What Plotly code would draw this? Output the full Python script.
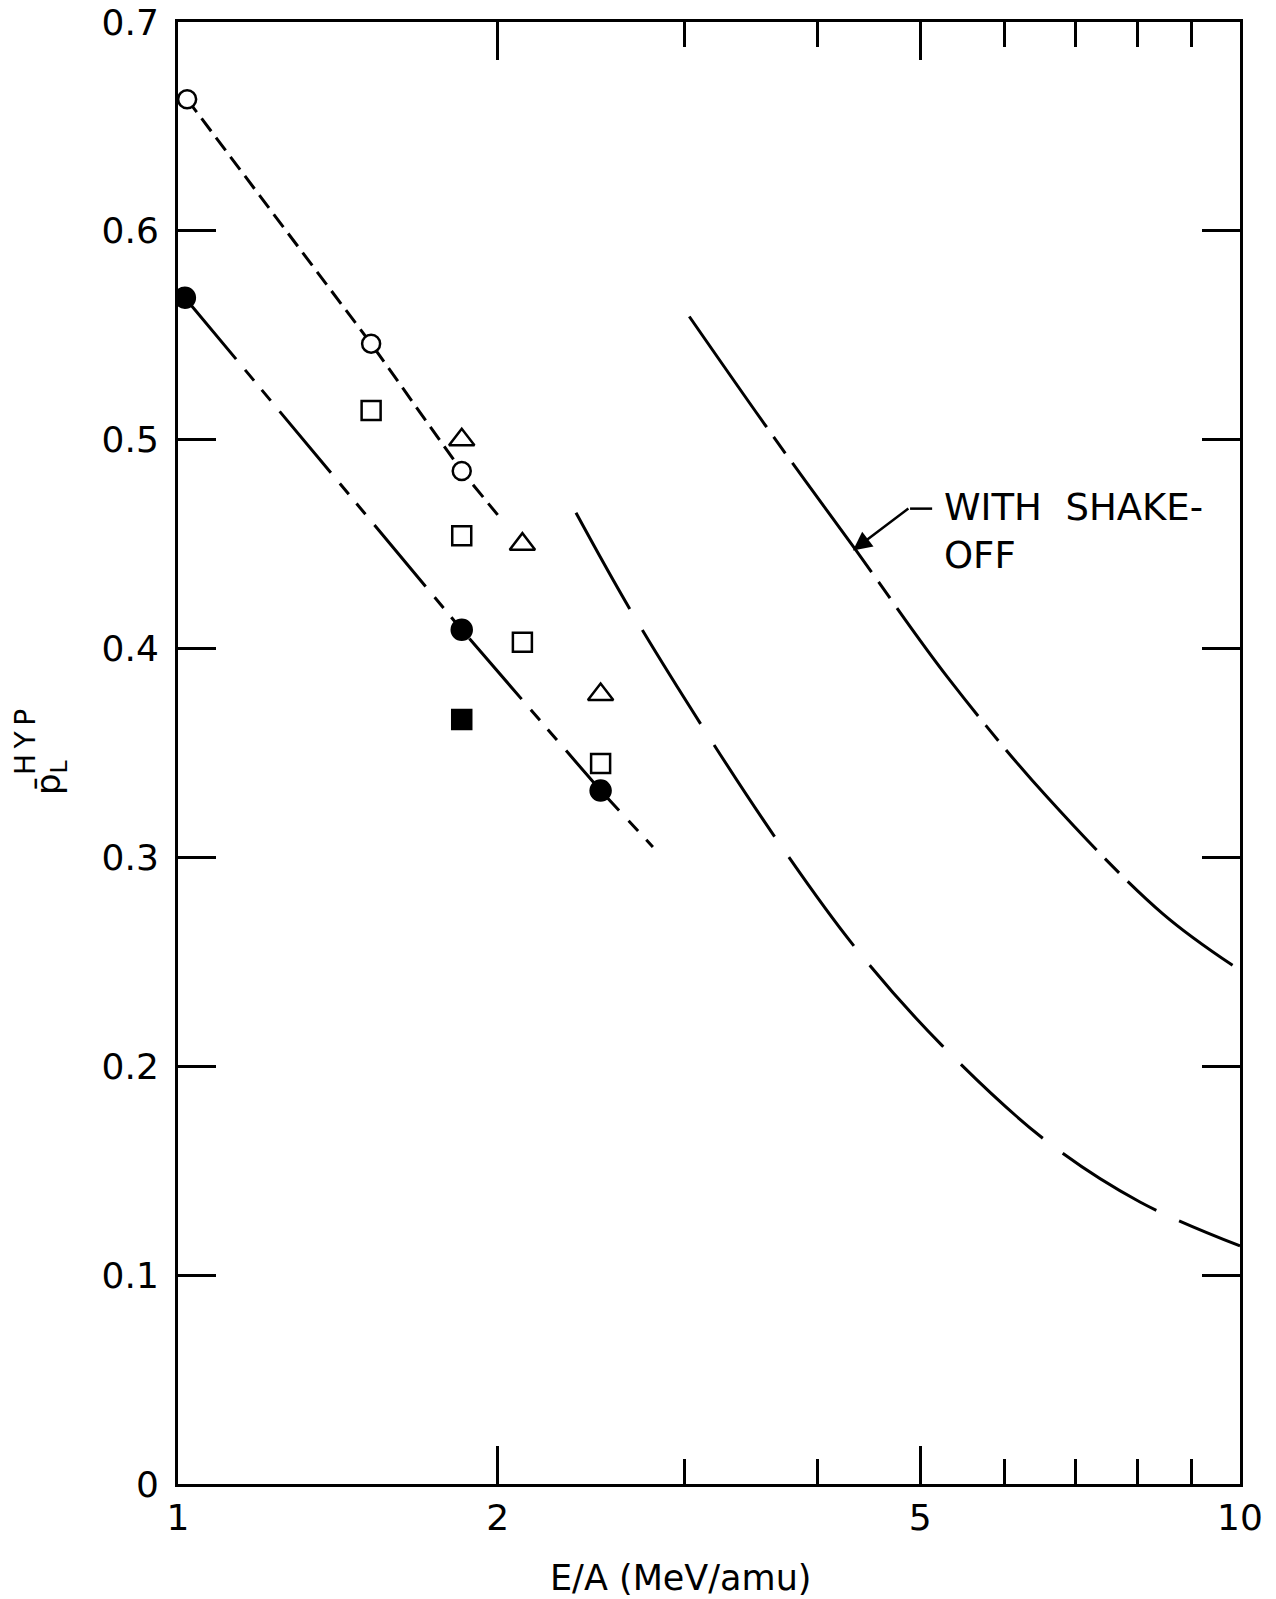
import math
import plotly.graph_objects as go

# ---------------- data ----------------
open_circle_x = [1.02, 1.52, 1.85]
open_circle_y = [0.663, 0.546, 0.485]

filled_circle_x = [1.015, 1.85, 2.50]
filled_circle_y = [0.568, 0.409, 0.332]

open_square_x = [1.52, 1.85, 2.11, 2.50]
open_square_y = [0.514, 0.454, 0.403, 0.345]

triangle_x = [1.85, 2.11, 2.50]
triangle_y = [0.500, 0.450, 0.378]

filled_square_x = [1.85]
filled_square_y = [0.366]

# short-dashed curve through open circles
curve_a_x = [1.02, 1.52, 1.85, 2.00]
curve_a_y = [0.663, 0.546, 0.485, 0.464]

# long-short dashed curve through filled circles
curve_b_x = [1.015, 1.85, 2.50, 2.80]
curve_b_y = [0.568, 0.409, 0.332, 0.305]

# long-dashed theory curve
curve_c_x = [2.37, 2.67, 3.15, 3.68, 4.34, 5.24, 6.58, 8.05, 10.0]
curve_c_y = [0.465, 0.418, 0.359, 0.307, 0.257, 0.210, 0.164, 0.135, 0.114]

# "with shake-off" curve
curve_d_x = [3.03, 3.63, 4.35, 5.31, 6.58, 8.46, 10.0]
curve_d_y = [0.559, 0.502, 0.447, 0.386, 0.329, 0.273, 0.246]

x_tick_vals = [1, 2, 5, 10]
x_tick_text = ["1", "2", "5", "10"]
x_minor_vals = [3, 4, 6, 7, 8, 9]
y_tick_vals = [0, 0.1, 0.2, 0.3, 0.4, 0.5, 0.6, 0.7]
y_tick_text = ["0", "0.1", "0.2", "0.3", "0.4", "0.5", "0.6", "0.7"]

arrow_head = (4.32, 0.447)
leader_x = [4.89, 5.13]
leader_y = [0.467, 0.467]

# ---------------- figure ----------------
FONT = "DejaVu Sans"
fig = go.Figure()

line_w = 3
fig.add_trace(go.Scatter(x=curve_a_x, y=curve_a_y, mode="lines",
                         line=dict(color="black", width=line_w, dash="16px,8px")))
fig.add_trace(go.Scatter(x=curve_b_x, y=curve_b_y, mode="lines",
                         line=dict(color="black", width=line_w,
                                   dash="80px,14px,14px,12px,14px,14px")))
fig.add_trace(go.Scatter(x=curve_c_x, y=curve_c_y, mode="lines",
                         line=dict(color="black", width=line_w, dash="110px,25px",
                                   shape="spline")))
fig.add_trace(go.Scatter(x=curve_d_x, y=curve_d_y, mode="lines",
                         line=dict(color="black", width=line_w,
                                   dash="135px,12px,20px,12px", shape="spline")))
fig.add_trace(go.Scatter(x=leader_x, y=leader_y, mode="lines",
                         line=dict(color="black", width=2.5)))

mk_line = dict(color="black", width=2.5)
fig.add_trace(go.Scatter(x=open_circle_x, y=open_circle_y, mode="markers",
                         marker=dict(symbol="circle", size=18, color="white", line=mk_line)))
fig.add_trace(go.Scatter(x=filled_circle_x, y=filled_circle_y, mode="markers",
                         marker=dict(symbol="circle", size=20, color="black", line=mk_line)))
fig.add_trace(go.Scatter(x=open_square_x, y=open_square_y, mode="markers",
                         marker=dict(symbol="square", size=19, color="white", line=mk_line)))
fig.add_trace(go.Scatter(x=triangle_x, y=triangle_y, mode="markers",
                         marker=dict(symbol="triangle-up", size=22, color="white", line=mk_line)))
fig.add_trace(go.Scatter(x=filled_square_x, y=filled_square_y, mode="markers",
                         marker=dict(symbol="square", size=19, color="black", line=mk_line)))

axis_common = dict(
    showline=True, linecolor="black", linewidth=3, mirror="ticks",
    ticks="inside", tickcolor="black", tickwidth=3, ticklen=38,
    showgrid=False, zeroline=False, automargin=False, ticklabeloverflow="allow",
    tickfont=dict(family=FONT, size=36, color="black"),
)

fig.update_xaxes(type="log", range=[0, 1], tickvals=x_tick_vals, ticktext=x_tick_text,
                 ticklabelstandoff=0,
                 minor=dict(tickvals=x_minor_vals, ticks="inside", ticklen=25,
                            tickwidth=3, tickcolor="black", showgrid=False),
                 **axis_common)
fig.update_yaxes(range=[0, 0.7], tickvals=y_tick_vals, ticktext=y_tick_text,
                 ticklabelstandoff=9, **axis_common)

annots = []
# arrow
annots.append(dict(x=math.log10(arrow_head[0]), y=arrow_head[1], xref="x", yref="y",
                   text="", showarrow=True, ax=57, ay=-43, arrowhead=2, arrowsize=1.5,
                   arrowwidth=2.5, arrowcolor="black"))
annots.append(dict(x=0.719, y=0.668, xref="paper", yref="paper", xanchor="left",
                   yanchor="middle", text="WITH  SHAKE-", showarrow=False,
                   font=dict(family=FONT, size=37, color="black")))
annots.append(dict(x=0.719, y=0.635, xref="paper", yref="paper", xanchor="left",
                   yanchor="middle", text="OFF", showarrow=False,
                   font=dict(family=FONT, size=37, color="black")))
# x-axis title
annots.append(dict(x=0.473, y=-0.0643, xref="paper", yref="paper", xanchor="center",
                   yanchor="middle", text="E/A (MeV/amu)", showarrow=False,
                   font=dict(family=FONT, size=35, color="black")))
# y-axis title (stacked sub/superscript)
annots.append(dict(x=0, y=0.4836, xref="paper", yref="paper", xanchor="center",
                   yanchor="middle", xshift=-127, text="p\u0304<sub>L</sub>",
                   textangle=-90, showarrow=False,
                   font=dict(family=FONT, size=34, color="black")))
annots.append(dict(x=0, y=0.5075, xref="paper", yref="paper", xanchor="center",
                   yanchor="middle", xshift=-153, text="H\u2009Y\u2009P",
                   textangle=-90, showarrow=False,
                   font=dict(family=FONT, size=28, color="black")))

fig.update_layout(
    width=1276, height=1599,
    margin=dict(l=178, r=36, t=22, b=115),
    paper_bgcolor="white", plot_bgcolor="white",
    showlegend=False, annotations=annots,
)

# remove the default 8px page margin so the figure fills the window exactly
fig.write_html("out.html", config={"displayModeBar": False},
               post_script="document.body.style.margin='0px';")
